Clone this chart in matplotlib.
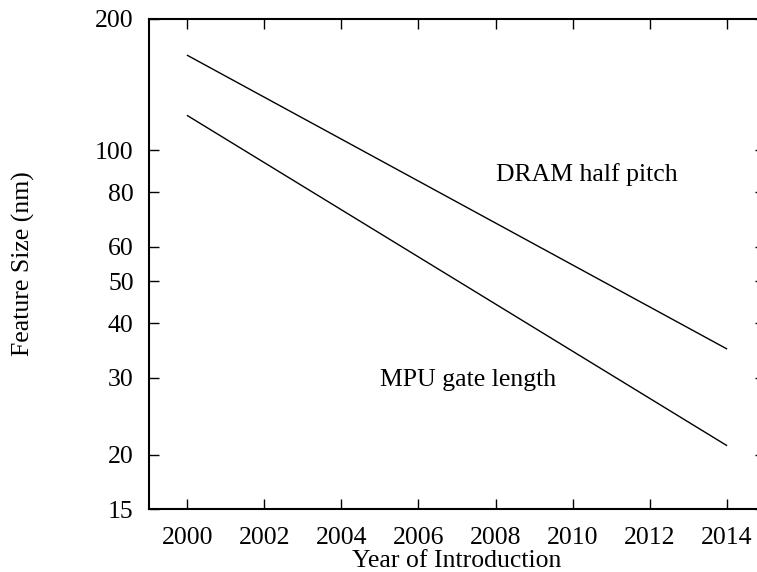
import matplotlib
matplotlib.use("Agg")
from matplotlib import pyplot as plt
from matplotlib.ticker import FixedLocator, FixedFormatter, NullLocator

plt.rcParams['font.family'] = ['Liberation Serif', 'DejaVu Serif']
plt.rcParams['font.size'] = 18.5

# ITRS roadmap endpoints, feature size in nm
years = [2000, 2014]
dram_half_pitch = [165, 35]
mpu_gate_length = [120, 21]

yticks = [15, 20, 30, 40, 50, 60, 80, 100, 200]
xticks = [2000, 2002, 2004, 2006, 2008, 2010, 2012, 2014]

fig = plt.figure(figsize=(7.57, 5.72), dpi=100)
ax = fig.add_axes([0.1968, 0.1101, 0.8138, 0.8567])

ax.plot(years, dram_half_pitch, color='black', linewidth=1.0)
ax.plot(years, mpu_gate_length, color='black', linewidth=1.0)

ax.set_yscale('log')
ax.set_xlim(1999, 2015)
ax.set_ylim(15, 200)

ax.yaxis.set_major_locator(FixedLocator(yticks))
ax.yaxis.set_major_formatter(FixedFormatter([str(v) for v in yticks]))
ax.yaxis.set_minor_locator(NullLocator())
ax.xaxis.set_major_locator(FixedLocator(xticks))
ax.xaxis.set_major_formatter(FixedFormatter([str(v) for v in xticks]))

ax.tick_params(which='major', direction='in', length=7, width=1.0,
               top=True, right=True, labelsize=18.5)
ax.tick_params(axis='y', pad=11)
ax.tick_params(axis='x', pad=13)
for s in ax.spines.values():
    s.set_linewidth(1.5)

ax.text(2008, 85, 'DRAM half pitch', ha='left', va='baseline')
ax.text(2005, 28.7, 'MPU gate length', ha='left', va='baseline')

ax.set_xlabel('Year of Introduction')
ax.set_ylabel('Feature Size (nm)')
ax.xaxis.set_label_coords(0.5, -0.083)
ax.yaxis.set_label_coords(-0.185, 0.5)

fig.savefig('out.png', dpi=100)
